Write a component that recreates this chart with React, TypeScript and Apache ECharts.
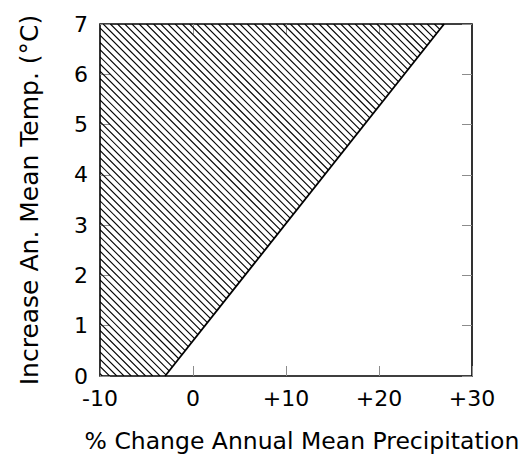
import React, { useEffect, useRef } from "react";
import * as echarts from "echarts";

// Hatched region (polygon vertices in data units)
const regionX = [-10, -3, 27, -10];
const regionY = [0, 0, 7, 7];
// Boundary line
const boundaryX = [-3, 27];
const boundaryY = [0, 7];
// Axis ticks
const xMin = -10, xMax = 30, xStep = 10;
const yMin = 0, yMax = 7, yStep = 1;
const xTickValues = [0, 10, 20];
const xTitle = "% Change Annual Mean Precipitation";
const yTitle = "Increase An. Mean Temp. (°C)";

const FONT = "DejaVu Sans";
const TICK_COLOR = "#8c8c8c";
const TICK_LEN = 10;

function xLabel(v: number) {
  return v > 0 ? "+" + v : String(v);
}

export default function App() {
  const ref = useRef<HTMLDivElement>(null);
  useEffect(() => {
    if (!ref.current) return;
    const chart = echarts.init(ref.current, null, { renderer: "svg" });
    const HATCH = 7.2;
    const renderHatch = (params: any, api: any) => {
      const pts = regionX.map((x, i) => api.coord([x, regionY[i]]));
      const f = pts.map((p: number[]) => p[0] - p[1]);
      const cMin = Math.min(...f), cMax = Math.max(...f);
      const children: any[] = [];
      const start = Math.ceil(cMin / HATCH) * HATCH;
      for (let c = start; c <= cMax; c += HATCH) {
        const hits: number[][] = [];
        for (let i = 0; i < pts.length; i++) {
          const P = pts[i], Q = pts[(i + 1) % pts.length];
          const fp = P[0] - P[1] - c, fq = Q[0] - Q[1] - c;
          if ((fp <= 0 && fq >= 0) || (fp >= 0 && fq <= 0)) {
            if (fp === fq) continue;
            const s = fp / (fp - fq);
            hits.push([P[0] + s * (Q[0] - P[0]), P[1] + s * (Q[1] - P[1])]);
          }
        }
        if (hits.length < 2) continue;
        hits.sort((a, b) => a[1] - b[1]);
        const a = hits[0], b = hits[hits.length - 1];
        if (Math.abs(a[1] - b[1]) < 0.5) continue;
        children.push({
          type: "line",
          shape: { x1: a[0], y1: a[1], x2: b[0], y2: b[1] },
          style: { stroke: "#000", lineWidth: 1.1 },
        });
      }
      return { type: "group", children };
    };

    // Inward tick marks on the bottom and top edges, placed through the x scale
    const renderXTicks = (params: any, api: any) => {
      const v = api.value(0);
      const b = api.coord([v, yMin]);
      const t = api.coord([v, yMax]);
      const x = Math.round(b[0]) + 0.5;
      return {
        type: "group",
        children: [
          { type: "line", shape: { x1: x, y1: b[1], x2: x, y2: b[1] - TICK_LEN }, style: { stroke: TICK_COLOR, lineWidth: 1 } },
          { type: "line", shape: { x1: x, y1: t[1], x2: x, y2: t[1] + TICK_LEN }, style: { stroke: TICK_COLOR, lineWidth: 1 } },
        ],
      };
    };

    const tickStyle = { show: true, inside: true, length: TICK_LEN, lineStyle: { color: TICK_COLOR, width: 1 } };
    const noLine = { show: false, onZero: false };
    const labelStyle = { color: "#000", fontSize: 22, fontFamily: FONT };
    chart.setOption({
      animation: false,
      grid: { left: 100, right: 53, top: 24, bottom: 92, show: true, borderColor: "#000", borderWidth: 1.6, backgroundColor: "transparent" },
      graphic: [
        {
          type: "text",
          x: 302,
          y: 429,
          style: { text: xTitle, fill: "#000", fontSize: 23.5, fontFamily: FONT, align: "center", verticalAlign: "top" },
        },
      ],
      xAxis: [
        {
          type: "value", position: "bottom", min: xMin, max: xMax, interval: xStep,
          axisLine: noLine, splitLine: { show: false }, axisTick: tickStyle,
          axisLabel: { ...labelStyle, margin: 11, formatter: xLabel },
        },
      ],
      yAxis: [
        {
          type: "value", position: "left", min: yMin, max: yMax, interval: yStep,
          axisLine: noLine, splitLine: { show: false }, axisTick: tickStyle,
          axisLabel: { ...labelStyle, margin: 12 },
          name: yTitle, nameLocation: "middle", nameGap: 58,
          nameTextStyle: { color: "#000", fontSize: 25, fontFamily: FONT },
        },
        {
          type: "value", position: "right", min: yMin, max: yMax, interval: yStep,
          axisLine: noLine, splitLine: { show: false }, axisTick: tickStyle, axisLabel: { show: false },
        },
      ],
      series: [
        {
          type: "custom",
          renderItem: renderXTicks,
          data: xTickValues.map((v) => [v, yMin]),
          encode: { x: 0, y: 1 },
          clip: false,
          silent: true,
          z: 2,
        },
        {
          type: "custom",
          renderItem: renderHatch,
          data: [[regionX[0], regionY[0]]],
          clip: true,
          silent: true,
          z: 3,
        },
        {
          type: "line",
          data: boundaryX.map((x, i) => [x, boundaryY[i]]),
          showSymbol: false,
          symbol: "none",
          lineStyle: { color: "#000", width: 1.8 },
          z: 4,
        },
      ],
    });
    return () => chart.dispose();
  }, []);
  return <div ref={ref} style={{ width: 525, height: 468, position: "absolute", left: 0, top: 0 }} />;
}
